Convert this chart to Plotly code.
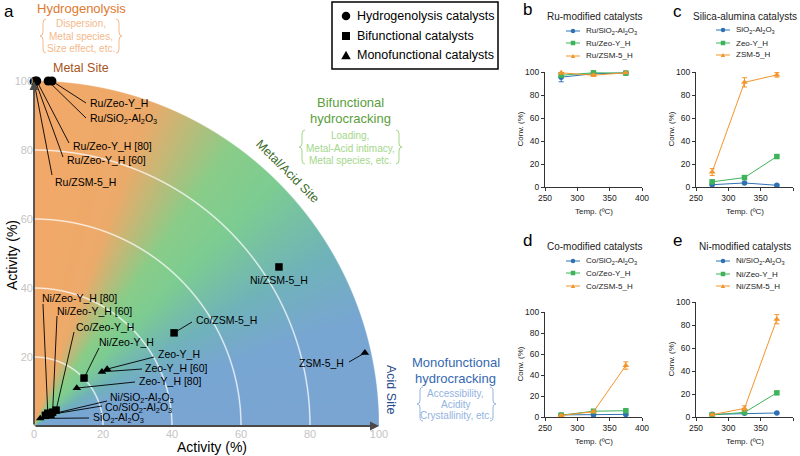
import numpy as np, base64, zlib, struct
import plotly.graph_objects as go

# ---------------- Panel a data ----------------
hyd_names = ["Ru/ZSM-5_H", "Ru/Zeo-Y_H [60]", "Ru/Zeo-Y_H [80]",
             "Ru/SiO<sub>2</sub>-Al<sub>2</sub>O<sub>3</sub>", "Ru/Zeo-Y_H"]
hyd_x = [0.0, 0.4, 0.8, 4.1, 5.2]
hyd_y = [99.8, 100.0, 100.0, 100.0, 100.0]

bif_names = ["Ni/ZSM-5_H", "Co/ZSM-5_H", "Ni/Zeo-Y_H", "Co/Zeo-Y_H", "Ni/Zeo-Y_H [60]",
             "Ni/Zeo-Y_H [80]", "Ni/SiO<sub>2</sub>-Al<sub>2</sub>O<sub>3</sub>",
             "Co/SiO<sub>2</sub>-Al<sub>2</sub>O<sub>3</sub>"]
bif_x = [71.0, 40.6, 14.5, 6.4, 5.4, 4.0, 4.9, 3.3]
bif_y = [46.1, 27.0, 13.9, 4.6, 4.0, 3.7, 3.4, 3.1]

mono_names = ["ZSM-5_H", "Zeo-Y_H", "Zeo-Y_H [60]", "Zeo-Y_H [80]",
              "SiO<sub>2</sub>-Al<sub>2</sub>O<sub>3</sub>"]
mono_x = [95.9, 21.2, 19.7, 12.4, 1.8]
mono_y = [21.2, 16.5, 15.7, 11.0, 2.2]

act_ticks = [0, 20, 40, 60, 80, 100]

# ---------------- Panels b-e data ----------------
temps = [275, 325, 375]
ru_names = ["Ru/SiO<sub>2</sub>-Al<sub>2</sub>O<sub>3</sub>", "Ru/Zeo-Y_H", "Ru/ZSM-5_H"]
ru_vals = [[95.5, 98.5, 99.2], [97.2, 99.3, 99.0], [99.3, 97.2, 99.3]]
ru_err = [[4.0, 1.2, 0.8], [1.0, 1.0, 0.6], [1.2, 1.0, 0.6]]

sa_names = ["SiO<sub>2</sub>-Al<sub>2</sub>O<sub>3</sub>", "Zeo-Y_H", "ZSM-5_H"]
sa_vals = [[2.0, 3.5, 1.5], [4.5, 8.2, 26.5], [13.0, 91.0, 97.5]]
sa_err = [[0.6, 0.6, 0.5], [0.8, 1.0, 1.0], [3.0, 4.0, 2.0]]

co_names = ["Co/SiO<sub>2</sub>-Al<sub>2</sub>O<sub>3</sub>", "Co/Zeo-Y_H", "Co/ZSM-5_H"]
co_vals = [[2.0, 2.0, 2.5], [1.8, 5.5, 6.0], [1.5, 5.0, 49.0]]
co_err = [[0.8, 0.5, 0.5], [0.5, 0.8, 0.5], [0.5, 0.5, 3.5]]

ni_names = ["Ni/SiO<sub>2</sub>-Al<sub>2</sub>O<sub>3</sub>", "Ni/Zeo-Y_H", "Ni/ZSM-5_H"]
ni_vals = [[2.3, 3.2, 3.5], [1.8, 4.0, 21.0], [2.0, 7.5, 85.0]]
ni_err = [[0.5, 0.5, 0.5], [0.5, 0.5, 1.0], [0.5, 2.2, 4.0]]

temp_ticks = [250, 300, 350, 400]
conv_ticks = [0, 20, 40, 60, 80, 100]

# ---------------- helpers ----------------
W, H = 800, 456
FONT = "Liberation Sans, Arial, sans-serif"
AX0, AY0, AS = 34, 426, 3.45  # main panel pixel mapping


def PX(x): return x / W
def PY(y): return 1 - y / H
def DX(px): return (px - AX0) / AS
def DY(py): return (AY0 - py) / AS


annotations, shapes = [], []


def ann(text, x, y, size, color="black", xanchor="center", angle=0):
    annotations.append(dict(text=text, x=PX(x), y=PY(y), xref="paper", yref="paper",
                            xanchor=xanchor, yanchor="middle", showarrow=False,
                            textangle=angle, font=dict(size=size, color=color, family=FONT)))


def brace(x_back, x_tip, yt, yb, color):
    xm = (x_back + x_tip) / 2
    ym = (yt + yb) / 2
    r = 4
    pts = [("M", [(x_back, yt)]), ("Q", [(xm, yt), (xm, yt + r)]), ("L", [(xm, ym - r)]),
           ("Q", [(xm, ym), (x_tip, ym)]), ("Q", [(xm, ym), (xm, ym + r)]), ("L", [(xm, yb - r)]),
           ("Q", [(xm, yb), (x_back, yb)])]
    path = " ".join(c + " " + " ".join(f"{PX(a):.5f},{PY(b):.5f}" for a, b in p) for c, p in pts)
    shapes.append(dict(type="path", xref="paper", yref="paper", path=path,
                       line=dict(color=color, width=1)))


def mshape(kind, cx, cy, s, color):
    if kind == "circle":
        shapes.append(dict(type="circle", xref="paper", yref="paper", x0=PX(cx - s / 2), x1=PX(cx + s / 2),
                           y0=PY(cy + s / 2), y1=PY(cy - s / 2), fillcolor=color, line=dict(width=0)))
    elif kind == "square":
        shapes.append(dict(type="rect", xref="paper", yref="paper", x0=PX(cx - s / 2), x1=PX(cx + s / 2),
                           y0=PY(cy + s / 2), y1=PY(cy - s / 2), fillcolor=color, line=dict(width=0)))
    else:
        h = s * 0.9
        path = (f"M {PX(cx - s/2):.5f},{PY(cy + h/2):.5f} L {PX(cx + s/2):.5f},{PY(cy + h/2):.5f} "
                f"L {PX(cx):.5f},{PY(cy - h/2):.5f} Z")
        shapes.append(dict(type="path", xref="paper", yref="paper", path=path, fillcolor=color,
                           line=dict(width=0)))


# ---------------- background image (gradient quarter disc + arcs) ----------------
N = 690
g = (np.arange(N) + 0.5) / N * 100
X, Y = np.meshgrid(g, g[::-1])
R = np.hypot(X, Y)
TH = np.degrees(np.arctan2(Y, X))
stop_a = [0, 18, 30, 45, 55, 70, 90]
stop_c = np.array([[122, 164, 210], [120, 166, 210], [112, 178, 186], [124, 204, 146],
                   [138, 204, 136], [236, 170, 106], [242, 168, 104]], float)
rgb = np.stack([np.interp(TH, stop_a, stop_c[:, k]) for k in range(3)], -1)
pxu = 100 / 345.0
for r in [20, 40, 60, 80]:
    cov = np.clip(1.15 - np.abs(R - r) / pxu, 0, 1)[..., None] * 0.85
    rgb = rgb * (1 - cov) + 255 * cov
alpha = np.clip((100 - R) / pxu + 0.5, 0, 1) * 255
img = np.concatenate([rgb, alpha[..., None]], -1).round().astype(np.uint8)


def to_png(arr):
    h, w, _ = arr.shape
    raw = b"".join(b"\x00" + arr[i].tobytes() for i in range(h))

    def chunk(t, d):
        return struct.pack(">I", len(d)) + t + d + struct.pack(">I", zlib.crc32(t + d) & 0xffffffff)
    return (b"\x89PNG\r\n\x1a\n" + chunk(b"IHDR", struct.pack(">IIBBBBB", w, h, 8, 6, 0, 0, 0)) +
            chunk(b"IDAT", zlib.compress(raw, 9)) + chunk(b"IEND", b""))


src = "data:image/png;base64," + base64.b64encode(to_png(img)).decode()

# ---------------- figure ----------------
fig = go.Figure()

# leader line / label layout for panel a (pixel positions: text x, text y, anchor, line end x, line end y)
label_pos = {
    "Ru/Zeo-Y_H": (88, 103, "left", 86, 103),
    "Ru/SiO<sub>2</sub>-Al<sub>2</sub>O<sub>3</sub>": (88, 119, "left", 86, 118),
    "Ru/Zeo-Y_H [80]": (71, 146, "left", 69, 143),
    "Ru/Zeo-Y_H [60]": (65, 160, "left", 63, 157),
    "Ru/ZSM-5_H": (53, 182, "left", 52, 175),
    "Ni/Zeo-Y_H [80]": (40, 298, "left", 43, 304),
    "Ni/Zeo-Y_H [60]": (55, 311, "left", 57, 316),
    "Co/Zeo-Y_H": (74, 327, "left", 74, 332),
    "Ni/Zeo-Y_H": (97, 342, "left", 99, 348),
    "Zeo-Y_H": (156, 354, "left", 154, 357),
    "Zeo-Y_H [60]": (143, 368, "left", 142, 369),
    "Zeo-Y_H [80]": (137, 381, "left", 135, 382),
    "Ni/SiO<sub>2</sub>-Al<sub>2</sub>O<sub>3</sub>": (108, 398, "left", 107, 401),
    "Co/SiO<sub>2</sub>-Al<sub>2</sub>O<sub>3</sub>": (103, 408, "left", 102, 406),
    "SiO<sub>2</sub>-Al<sub>2</sub>O<sub>3</sub>": (91, 418, "left", 89, 418),
    "Co/ZSM-5_H": (194, 320, "left", 192, 322),
    "Ni/ZSM-5_H": (279, 280, "center", None, None),
    "ZSM-5_H": (346, 363, "right", 349, 362),
}

for names, xs, ys in [(hyd_names, hyd_x, hyd_y), (bif_names, bif_x, bif_y), (mono_names, mono_x, mono_y)]:
    for n, x, y in zip(names, xs, ys):
        tx, ty, anc, lx, ly = label_pos[n]
        if lx is not None:
            shapes.append(dict(type="line", xref="x", yref="y", x0=x, y0=y, x1=DX(lx), y1=DY(ly),
                               line=dict(color="black", width=0.9), layer="above"))
        annotations.append(dict(text=n, x=DX(tx), y=DY(ty), xref="x", yref="y", xanchor=anc,
                                yanchor="middle", showarrow=False,
                                font=dict(size=10.5, color="black", family=FONT)))

fig.add_trace(go.Scatter(x=hyd_x, y=hyd_y, mode="markers", cliponaxis=False, showlegend=False,
                         marker=dict(symbol="circle", size=9, color="black")))
fig.add_trace(go.Scatter(x=bif_x, y=bif_y, mode="markers", cliponaxis=False, showlegend=False,
                         marker=dict(symbol="square", size=7.5, color="black")))
fig.add_trace(go.Scatter(x=mono_x, y=mono_y, mode="markers", cliponaxis=False, showlegend=False,
                         marker=dict(symbol="triangle-up", size=7.5, color="black")))

# ---------------- small panels ----------------
C_BLUE, C_GREEN, C_ORANGE = "#2f72b4", "#3fb35a", "#f4952c"
series_style = [("circle", C_BLUE, 5.5), ("square", C_GREEN, 5.5), ("triangle-up", C_ORANGE, 6)]
panels = [
    (2, ru_names, ru_vals, ru_err, "Ru-modified catalysts", (545, 642, 72, 187), 595, 17, 573, [31, 43, 56], "b", (527, 10)),
    (3, sa_names, sa_vals, sa_err, "Silica-alumina catalysts", (696, 793, 72, 187), 745, 16, 723, [30, 43, 55], "c", (677, 11)),
    (4, co_names, co_vals, co_err, "Co-modified catalysts", (545, 642, 312, 417), 595, 247, 573, [261, 273, 286], "d", (527, 240)),
    (5, ni_names, ni_vals, ni_err, "Ni-modified catalysts", (696, 793, 302, 417), 745, 247, 723, [261, 274, 286], "e", (677, 240)),
]
axis_common = dict(showline=True, linecolor="#333", linewidth=1.2, ticks="outside", ticklen=3,
                   tickwidth=1, tickcolor="#333", showgrid=False, zeroline=False, automargin=False,
                   tickfont=dict(size=8.5, color="#222", family=FONT))
layout_axes = {}
for k, names, vals, errs, title, (x0, x1, y0, y1), tcx, tcy, mx, lys, letter, (lx, ly) in panels:
    for (sym, col, sz), n, v, e in zip(series_style, names, vals, errs):
        fig.add_trace(go.Scatter(x=temps, y=v, xaxis=f"x{k}", yaxis=f"y{k}", mode="lines+markers",
                                 cliponaxis=False, showlegend=False,
                                 line=dict(color=col, width=1),
                                 marker=dict(symbol=sym, size=sz, color=col),
                                 error_y=dict(type="data", array=e, color=col, thickness=1, width=2.5)))
    layout_axes[f"xaxis{k}"] = dict(domain=[PX(x0), PX(x1)], anchor=f"y{k}", range=[250, 400],
                                    tickvals=temp_ticks, **axis_common)
    layout_axes[f"yaxis{k}"] = dict(domain=[PY(y1), PY(y0)], anchor=f"x{k}", range=[0, 100],
                                    tickvals=conv_ticks, **axis_common)
    ann(title, tcx, tcy, 10, "#222")
    ann(letter, lx, ly, 17, "black")
    ann("Conv. (%)", x0 - 25, (y0 + y1) / 2, 8, "#222", angle=-90)
    ann("Temp. (ºC)", (x0 + x1) / 2, y1 + 24, 8, "#222")
    for (sym, col, sz), n, yy in zip(series_style, names, lys):
        shapes.append(dict(type="line", xref="paper", yref="paper", x0=PX(mx - 7), x1=PX(mx + 7),
                           y0=PY(yy), y1=PY(yy), line=dict(color=col, width=1)))
        mshape({"circle": "circle", "square": "square", "triangle-up": "tri"}[sym], mx, yy, 4.5, col)
        ann(n, mx + 11, yy, 8, "#222", xanchor="left")

# ---------------- panel a decorations ----------------
# axis arrows
for (x, y) in [(100, 0), (0, 100)]:
    annotations.append(dict(text="", x=x, y=y, ax=0, ay=0, xref="x", yref="y", axref="x", ayref="y",
                            showarrow=True, arrowhead=2, arrowsize=1, arrowwidth=1.8,
                            arrowcolor="#4a4a4a"))
ann("a", 9, 11, 17, "black")
ann("Activity (%)", 212, 447, 14, "black")
ann("Activity (%)", 12, 255, 14, "black", angle=-90)

# legend box
shapes.append(dict(type="rect", xref="paper", yref="paper", x0=PX(332), x1=PX(498), y0=PY(69), y1=PY(2),
                   line=dict(color="black", width=1.5)))
for kind, yy, s, txt in [("circle", 16, 8.5, "Hydrogenolysis catalysts"),
                         ("square", 36, 8, "Bifunctional catalysts"),
                         ("tri", 55, 9.5, "Monofunctional catalysts")]:
    mshape(kind, 346, yy, s, "black")
    ann(txt, 355, yy, 12.5, "black", xanchor="left")

# region texts
C_OR, C_OR_L, C_OR_D = "#e0792f", "#f4b98b", "#a8531c"
ann("Hydrogenolysis", 81, 8, 13, C_OR)
for t, yy in [("Dispersion,", 24), ("Metal species,", 36), ("Size effect, etc.", 48)]:
    ann(t, 81, yy, 10, C_OR_L)
brace(46, 40, 19, 53, C_OR_L)
brace(116, 122, 19, 53, C_OR_L)
ann("Metal Site", 81, 68, 12.5, C_OR_D)

C_GR, C_GR_L, C_GR_D = "#5a9e3c", "#a3d78a", "#3d6b2a"
ann("Bifunctional", 350, 102, 13, C_GR)
ann("hydrocracking", 350, 118, 13, C_GR)
for t, yy in [("Loading,", 135), ("Metal-Acid intimacy,", 148), ("Metal species, etc.", 160)]:
    ann(t, 350, yy, 10, C_GR_L)
brace(305, 299, 130, 164, C_GR_L)
brace(396, 402, 130, 164, C_GR_L)
ann("Metal/Acid Site", 287, 171, 12.5, C_GR_D, angle=45)

C_BL, C_BL_L, C_BL_D = "#3568b0", "#93b3e2", "#2a4a8a"
ann("Monofunctional", 456, 362, 13, C_BL)
ann("hydrocracking", 456, 378, 13, C_BL)
for t, yy in [("Accessibility,", 393), ("Acidity", 404), ("Crystallinity, etc.", 415)]:
    ann(t, 456, yy, 10, C_BL_L)
brace(423, 417, 387, 421, C_BL_L)
brace(490, 496, 387, 421, C_BL_L)
ann("Acid Site", 391, 389, 12.5, C_BL_D, angle=90)

main_tickfont = dict(size=11, color="#c4c4c4", family=FONT)
fig.update_layout(
    width=W, height=H, margin=dict(l=0, r=0, t=0, b=0, autoexpand=False),
    paper_bgcolor="white", plot_bgcolor="rgba(0,0,0,0)",
    font=dict(family=FONT),
    showlegend=False,
    xaxis=dict(domain=[PX(AX0), PX(AX0 + 100 * AS)], range=[0, 100], tickvals=act_ticks, automargin=False,
               showgrid=False, zeroline=False, showline=False, ticks="", tickfont=main_tickfont),
    yaxis=dict(domain=[PY(AY0), PY(AY0 - 100 * AS)], range=[0, 100], tickvals=act_ticks[1:], automargin=False,
               showgrid=False, zeroline=False, showline=False, ticks="", tickfont=main_tickfont),
    images=[dict(source=src, xref="x", yref="y", x=0, y=100, sizex=100, sizey=100,
                 sizing="stretch", xanchor="left", yanchor="top", layer="below")],
    annotations=annotations, shapes=shapes,
    **layout_axes,
)

fig.write_html("out.html", config={"displayModeBar": False},
               post_script="document.body.style.margin='0';document.body.style.padding='0';")
